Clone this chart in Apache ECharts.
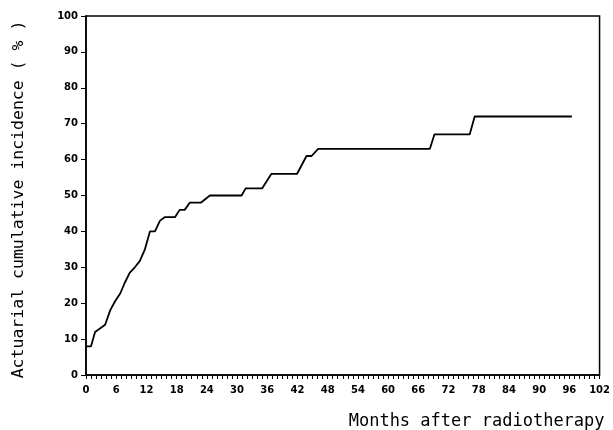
<!DOCTYPE html>
<html lang="en">
  <head>
    <meta charset="UTF-8" />
    <title>Actuarial cumulative incidence</title>
    <script src="https://cdn.jsdelivr.net/npm/echarts@6/dist/echarts.min.js"></script>
    <style>
      html, body { margin: 0; padding: 0; background: #fff; }
    </style>
  </head>
  <body>
    <div id="main" style="width: 613px; height: 430px"></div>
    <script type="text/javascript">
      // months after radiotherapy
      var months = [0, 1, 1.8, 3.8, 4.8, 5.8, 6.8, 7.7, 8.7, 9.7, 10.7, 11.7, 12.7, 13.7, 14.7, 15.7,
        17.7, 18.6, 19.6, 20.6, 22.8, 24.6, 30.9, 31.7, 35, 36.8, 41.9, 43.8, 44.8, 46.1,
        68.3, 69.2, 76.2, 77.2, 96.5];
      // actuarial cumulative incidence (%)
      var incidence = [8, 8, 12, 14, 18, 20.6, 22.7, 25.7, 28.5, 30, 31.8, 35, 40, 40, 43, 44,
        44, 46, 46, 48, 48, 50, 50, 52, 52, 56, 56, 61, 61, 63,
        63, 67, 67, 72, 72];
      var xTicks = { min: 0, max: 102, step: 6 };
      var yTicks = { min: 0, max: 100, step: 10 };

      var points = [];
      for (var i = 0; i < months.length; i++) points.push([months[i], incidence[i]]);

      var myChart = echarts.init(document.getElementById("main"));
      var option = {
        backgroundColor: "#fff",
        animation: false,
        grid: {
          left: 86,
          right: 13,
          top: 16,
          bottom: 54,
          show: true,
          borderColor: "#000",
          borderWidth: 1.5,
        },
        xAxis: {
          type: "value",
          min: xTicks.min,
          max: xTicks.max,
          interval: xTicks.step,
          name: "Months after radiotherapy",
          nameLocation: "end",
          nameGap: 5,
          nameTextStyle: {
            fontFamily: "DejaVu Sans Mono",
            fontSize: 17,
            color: "#000",
            align: "right",
            verticalAlign: "top",
            padding: [38, 0, 0, 0],
          },
          axisLine: { lineStyle: { color: "#000", width: 1.5 } },
          axisTick: { show: true, length: 4, lineStyle: { color: "#000", width: 1 } },
          minorTick: { show: true, splitNumber: 6, length: 4, lineStyle: { color: "#000", width: 1 } },
          splitLine: { show: false },
          axisLabel: {
            margin: 10,
            color: "#000",
            fontFamily: "DejaVu Sans",
            fontWeight: "bold",
            fontSize: 10,
          },
        },
        yAxis: {
          type: "value",
          min: yTicks.min,
          max: yTicks.max,
          interval: yTicks.step,
          name: "Actuarial cumulative incidence ( % )",
          nameLocation: "middle",
          nameRotate: 90,
          nameGap: 59,
          nameTextStyle: {
            fontFamily: "DejaVu Sans Mono",
            fontSize: 16.5,
            color: "#000",
            padding: [0, 8, 0, 0],
          },
          axisLine: { show: true, lineStyle: { color: "#000", width: 1.5 } },
          axisTick: { show: true, length: 5, lineStyle: { color: "#000", width: 1 } },
          splitLine: { show: false },
          axisLabel: {
            margin: 8,
            color: "#000",
            fontFamily: "DejaVu Sans",
            fontWeight: "bold",
            fontSize: 10,
          },
        },
        series: [
          {
            type: "line",
            data: points,
            showSymbol: false,
            symbol: "none",
            lineStyle: { color: "#000", width: 1.8 },
          },
        ],
      };
      myChart.setOption(option);
    </script>
  </body>
</html>
